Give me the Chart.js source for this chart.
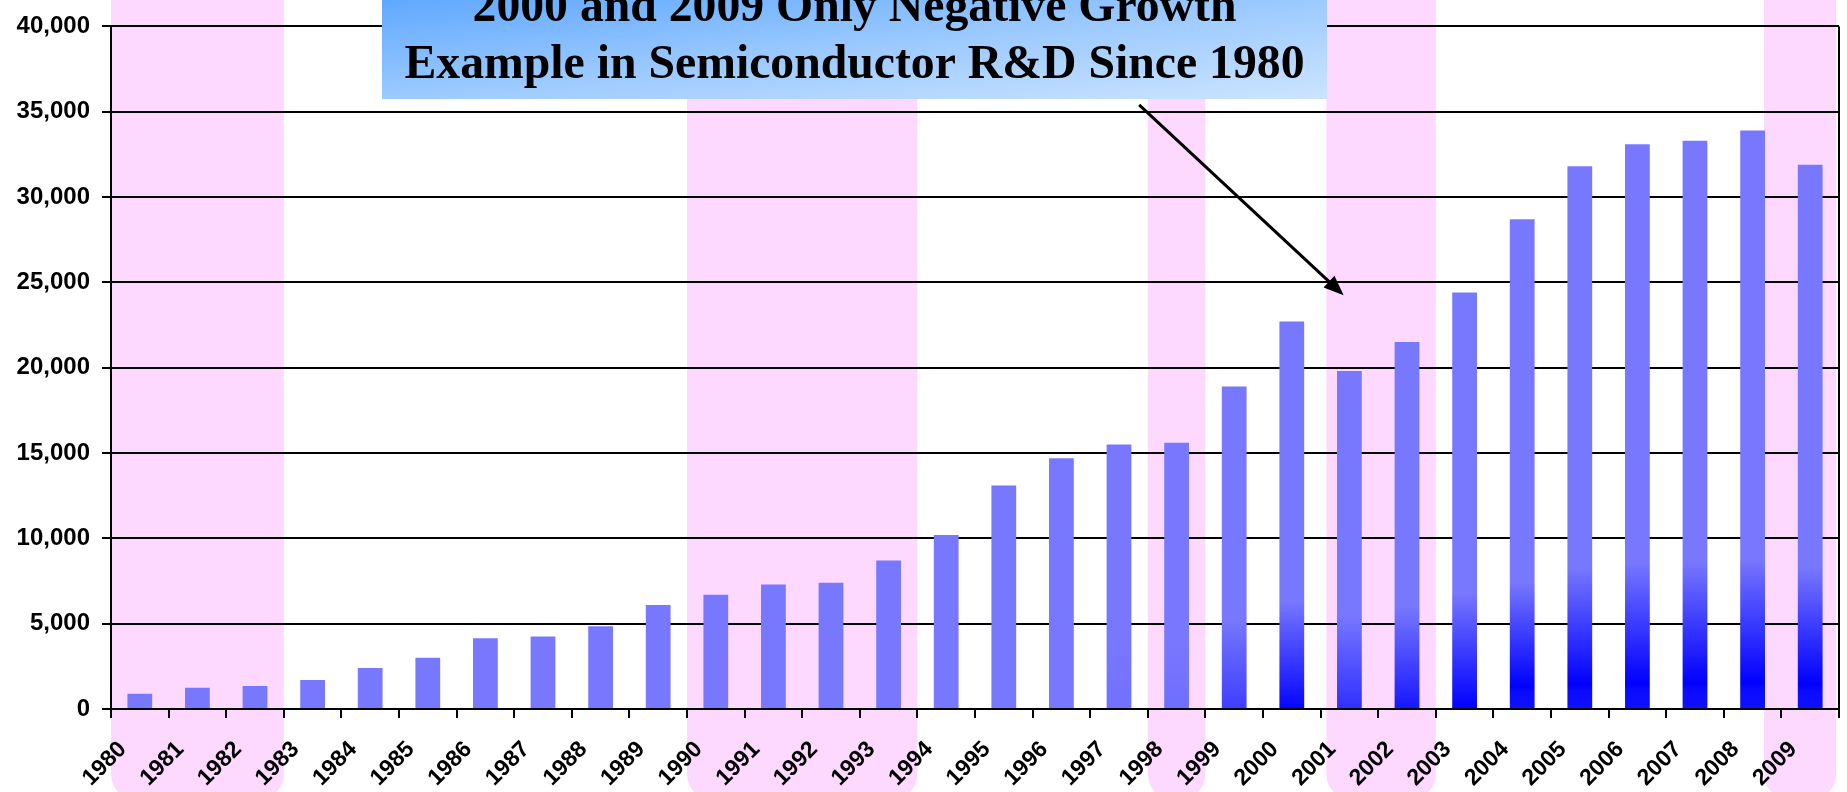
<!DOCTYPE html>
<html>
<head>
<meta charset="utf-8">
<script src="https://cdn.jsdelivr.net/npm/chart.js@4.4.1/dist/chart.umd.min.js"></script>
<style>
  body { margin: 0; background: #fff; }
  canvas { display: block; }
</style>
</head>
<body>
<canvas id="myChart" width="1847" height="792"></canvas>
<script>
const years = ['1980', '1981', '1982', '1983', '1984', '1985', '1986', '1987', '1988', '1989',
  '1990', '1991', '1992', '1993', '1994', '1995', '1996', '1997', '1998', '1999',
  '2000', '2001', '2002', '2003', '2004', '2005', '2006', '2007', '2008', '2009']
const rdSpending = [900, 1250, 1350, 1700, 2400, 3000, 4150, 4250, 4850, 6100,
  6700, 7300, 7400, 8700, 10200, 13100, 14700, 15500, 15600, 18900,
  22700, 19800, 21500, 24400, 28700, 31800, 33100, 33300, 33900, 31900]
const yTicks = [0, 5000, 10000, 15000, 20000, 25000, 30000, 35000, 40000]

// shaded periods, in category index units (-0.5 = left edge of 1980)
const bandFrom = [-0.5, 9.5, 17.5, 20.6, 28.2]
const bandTo = [2.5, 13.5, 18.5, 22.5, 29.45]

const calloutLines = ['2000 and 2009 Only Negative Growth', 'Example in Semiconductor R&D Since 1980']
const arrowFrom = [17.35, 35400]
const arrowTo = [20.9, 24250]

const light = [120, 120, 255]
const blue = [0, 0, 255]

function mix(a, b, t) {
  return 'rgb(' + a.map((v, i) => Math.round(v + (b[i] - v) * t)).join(',') + ')'
}

function barFill(context) {
  const chart = context.chart
  const y = chart.scales.y
  const v = context.raw
  if (!y || typeof v !== 'number') return mix(light, light, 0)
  const top = y.getPixelForValue(v)
  const base = y.getPixelForValue(0)
  if (!isFinite(top) || !isFinite(base) || top === base) return mix(light, light, 0)
  const g = chart.ctx.createLinearGradient(0, top, 0, base)
  if (v >= 28000) {
    g.addColorStop(0, mix(light, blue, 0))
    g.addColorStop(0.74, mix(light, blue, 0))
    g.addColorStop(0.955, mix(light, blue, 1))
    g.addColorStop(0.965, mix(blue, light, 0.08))
    g.addColorStop(1, mix(blue, light, 0.14))
  } else {
    const k = Math.min(Math.max((v - 15000) / 8000, 0), 1)
    g.addColorStop(0, mix(light, blue, 0))
    g.addColorStop(0.72, mix(light, blue, 0))
    g.addColorStop(1, mix(light, blue, k))
  }
  return g
}

const bands = {
  id: 'bands',
  beforeDraw(chart) {
    const ctx = chart.ctx
    const x = chart.scales.x
    ctx.save()
    ctx.fillStyle = '#fff'
    ctx.fillRect(0, 0, chart.width, chart.height)
    ctx.fillStyle = 'rgb(253,217,255)'
    for (let i = 0; i < bandFrom.length; i++) {
      const x0 = x.getPixelForValue(bandFrom[i])
      const x1 = x.getPixelForValue(bandTo[i])
      ctx.beginPath()
      ctx.roundRect(x0, -40, x1 - x0, 840, 26)
      ctx.fill()
    }
    ctx.restore()
  }
}

const callout = {
  id: 'callout',
  afterDraw(chart) {
    const ctx = chart.ctx
    const area = chart.chartArea
    const x = chart.scales.x
    const y = chart.scales.y
    ctx.save()

    // right border of the plot
    ctx.strokeStyle = '#000'
    ctx.lineWidth = 2
    ctx.beginPath()
    ctx.moveTo(area.right, area.top)
    ctx.lineTo(area.right, area.bottom)
    ctx.stroke()

    // box
    const bx = 382, by = 0, bw = 945, bh = 99
    ctx.save()
    ctx.translate(bx, by)
    ctx.scale(bw, bh)
    const g = ctx.createLinearGradient(0, 0, 1, 1)
    g.addColorStop(0, 'rgb(96,168,255)')
    g.addColorStop(0.5, 'rgb(156,202,255)')
    g.addColorStop(1, 'rgb(204,228,255)')
    ctx.fillStyle = g
    ctx.fillRect(0, 0, 1, 1)
    ctx.restore()

    ctx.fillStyle = '#000'
    ctx.font = 'bold 48px "Liberation Serif", "Times New Roman", serif'
    ctx.textAlign = 'center'
    ctx.textBaseline = 'alphabetic'
    const sx = 900 / ctx.measureText(calloutLines[1]).width
    const cx = bx + bw / 2
    ctx.save()
    ctx.translate(cx, 0)
    ctx.scale(sx, 1)
    ctx.fillText(calloutLines[0], 0, 21)
    ctx.fillText(calloutLines[1], 0, 77.5)
    ctx.restore()

    // arrow
    const x0 = x.getPixelForValue(arrowFrom[0])
    const y0 = y.getPixelForValue(arrowFrom[1])
    const x1 = x.getPixelForValue(arrowTo[0])
    const y1 = y.getPixelForValue(arrowTo[1])
    const a = Math.atan2(y1 - y0, x1 - x0)
    ctx.strokeStyle = '#000'
    ctx.lineWidth = 3
    ctx.beginPath()
    ctx.moveTo(x0, y0)
    ctx.lineTo(x1 - 14 * Math.cos(a), y1 - 14 * Math.sin(a))
    ctx.stroke()
    ctx.beginPath()
    ctx.moveTo(x1, y1)
    ctx.lineTo(x1 - 20 * Math.cos(a) + 8 * Math.sin(a), y1 - 20 * Math.sin(a) - 8 * Math.cos(a))
    ctx.lineTo(x1 - 20 * Math.cos(a) - 8 * Math.sin(a), y1 - 20 * Math.sin(a) + 8 * Math.cos(a))
    ctx.closePath()
    ctx.fill()

    ctx.restore()
  }
}

const ctx = document.getElementById('myChart')

new Chart(ctx, {
  type: 'bar',
  data: {
    labels: years,
    datasets: [{
      label: 'Semiconductor R&D',
      data: rdSpending,
      backgroundColor: barFill,
      borderWidth: 0,
      barPercentage: 0.43,
      categoryPercentage: 1
    }]
  },
  options: {
    responsive: false,
    animation: false,
    devicePixelRatio: 1,
    layout: {
      padding: { top: 18, right: 8, left: 0, bottom: 0 }
    },
    plugins: {
      legend: { display: false },
      title: { display: false },
      tooltip: { enabled: false }
    },
    scales: {
      x: {
        afterFit(scale) {
          scale.height = 83
          scale.paddingLeft = 0
          scale.paddingRight = 0
        },
        grid: {
          offset: true,
          drawOnChartArea: false,
          color: '#000',
          lineWidth: 2,
          tickLength: 9
        },
        border: { display: true, color: '#000', width: 2 },
        ticks: {
          autoSkip: false,
          minRotation: 45,
          maxRotation: 45,
          padding: 18,
          labelOffset: -17,
          color: '#000',
          font: { family: '"Liberation Sans", Arial, sans-serif', size: 23, weight: 'bold' }
        }
      },
      y: {
        min: 0,
        max: 40000,
        afterFit(scale) { scale.width = 111 },
        afterBuildTicks(scale) { scale.ticks = yTicks.map(v => ({ value: v })) },
        grid: {
          color: '#000',
          lineWidth: 2,
          tickLength: 9
        },
        border: { display: true, color: '#000', width: 2 },
        ticks: {
          padding: 12,
          color: '#000',
          font: { family: '"Liberation Sans", Arial, sans-serif', size: 24, weight: 'bold' },
          callback: v => v.toLocaleString('en-US')
        }
      }
    }
  },
  plugins: [bands, callout]
})
</script>
</body>
</html>
